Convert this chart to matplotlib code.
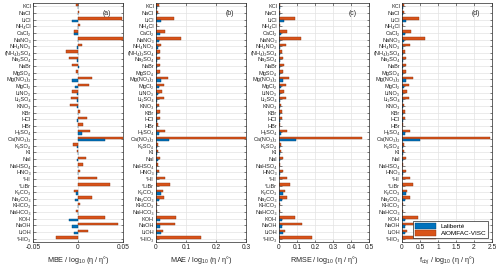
import numpy as np
import matplotlib
matplotlib.use("Agg")
import matplotlib.pyplot as plt

plt.rcParams['font.family'] = ['Liberation Sans', 'DejaVu Sans']
plt.rcParams['mathtext.fontset'] = 'custom'
plt.rcParams['mathtext.rm'] = 'Liberation Sans'
plt.rcParams['mathtext.it'] = 'Liberation Sans:italic'

# Electrolytes, top to bottom (unicode subscripts keep the labels one line high)
electrolitos = [
    'KCl', 'NaCl', 'LiCl', 'NH₄Cl', 'CaCl₂', 'NaNO₃', 'NH₄NO₃',
    '(NH₄)₂SO₄', 'Na₂SO₄', 'NaBr', 'MgSO₄', 'Mg(NO₃)₂',
    'MgCl₂', 'LiNO₃', 'Li₂SO₄', 'KNO₃', 'KBr', 'HCl', 'HBr',
    'H₂SO₄', 'Ca(NO₃)₂', 'K₂SO₄', 'KI', 'NaI', 'NaHSO₄',
    'HNO₃', '*HI', '*LiBr', 'K₂CO₃', 'Na₂CO₃', 'KHCO₃',
    'NaHCO₃', 'KOH', 'NaOH', 'LiOH', '*HIO₃',
]

nan = np.nan

# (a) MBE
mbe_lal = [0.0005, 0.0005, -0.007, 0.0005, -0.0045, 0.0005, -0.001, -0.0005, -0.001,
           0.001, -0.0005, -0.007, -0.003, -0.001, -0.001, -0.001, 0.0005, -0.001,
           0.0005, 0.004, 0.030, -0.001, -0.0005, -0.001, 0.0005, 0.0005, nan, nan,
           -0.002, -0.003, 0.0005, -0.0005, -0.0095, -0.0065, -0.004, nan]
mbe_aio = [-0.002, 0.0015, 0.049, 0.002, -0.0045, 0.052, 0.004, -0.0135, -0.010,
           -0.007, -0.002, 0.016, 0.012, -0.007, -0.0075, -0.009, 0.002, 0.0095,
           0.005, 0.013, 0.058, -0.0055, -0.0015, 0.009, 0.006, 0.002, 0.021, 0.036,
           -0.004, 0.016, 0.002, -0.0025, 0.030, 0.044, 0.011, -0.025]

# (b) MAE
mae_lal = [0.002, 0.002, 0.017, 0.001, 0.013, 0.009, 0.005, 0.002, 0.003, 0.004,
           0.002, 0.018, 0.009, 0.005, 0.004, 0.004, 0.002, 0.002, 0.001, 0.011,
           0.042, 0.004, 0.002, 0.005, 0.001, 0.002, nan, nan, 0.018, 0.010, 0.001,
           0.001, 0.014, 0.013, 0.017, nan]
mae_aio = [0.009, 0.007, 0.059, 0.003, 0.031, 0.084, 0.017, 0.014, 0.012, 0.014,
           0.012, 0.040, 0.026, 0.020, 0.026, 0.011, 0.013, 0.012, 0.006, 0.031,
           0.33, 0.007, 0.008, 0.014, 0.006, 0.011, 0.031, 0.047, 0.023, 0.028,
           0.003, 0.003, 0.067, 0.064, 0.022, 0.151]

# (c) RMSE
rmse_lal = [0.003, 0.003, 0.026, 0.002, 0.013, 0.007, 0.006, 0.003, 0.004, 0.005,
            0.003, 0.024, 0.011, 0.006, 0.005, 0.004, 0.003, 0.003, 0.002, 0.013,
            0.096, 0.005, 0.003, 0.007, 0.002, 0.003, nan, nan, 0.022, 0.017, 0.002,
            0.002, 0.017, 0.017, 0.020, nan]
rmse_aio = [0.007, 0.007, 0.087, 0.004, 0.046, 0.124, 0.041, 0.019, 0.024, 0.026,
            0.022, 0.056, 0.037, 0.026, 0.037, 0.013, 0.015, 0.015, 0.007, 0.043,
            0.46, 0.009, 0.013, 0.024, 0.007, 0.024, 0.043, 0.063, 0.031, 0.043,
            0.004, 0.004, 0.087, 0.13, 0.033, 0.185]

# (d) f_obj
fobj_lal = [0.015, 0.015, 0.12, 0.01, 0.08, 0.05, 0.03, 0.015, 0.02, 0.025, 0.015,
            0.10, 0.06, 0.03, 0.025, 0.02, 0.015, 0.015, 0.01, 0.07, 0.51, 0.025,
            0.015, 0.035, 0.01, 0.015, nan, nan, 0.10, 0.08, 0.01, 0.01, 0.08, 0.08,
            0.08, nan]
fobj_aio = [0.05, 0.055, 0.46, 0.03, 0.24, 0.65, 0.21, 0.09, 0.11, 0.12, 0.11, 0.30,
            0.19, 0.13, 0.19, 0.06, 0.07, 0.07, 0.04, 0.21, 2.44, 0.05, 0.06, 0.11,
            0.03, 0.10, 0.21, 0.31, 0.15, 0.21, 0.02, 0.02, 0.44, 0.68, 0.15, 0.95]

unidade = r'log$_{10}$ ($\mathrm{\eta}$ / $\mathrm{\eta}$°)'
paineis = [
    ('(a)', mbe_lal, mbe_aio, (-0.05, 0.05), [-0.05, 0, 0.05], ['-0.05', '0', '0.05'],
     'MBE / ' + unidade),
    ('(b)', mae_lal, mae_aio, (0, 0.3), [0, 0.1, 0.2, 0.3], ['0', '0.1', '0.2', '0.3'],
     'MAE / ' + unidade),
    ('(c)', rmse_lal, rmse_aio, (0, 0.5), [0, 0.1, 0.2, 0.3, 0.4, 0.5],
     ['0', '0.1', '0.2', '0.3', '0.4', '0.5'], 'RMSE / ' + unidade),
    ('(d)', fobj_lal, fobj_aio, (0, 2.5), [0, 0.5, 1, 1.5, 2, 2.5],
     ['0', '0.5', '1', '1.5', '2', '2.5'], 'f$_{obj}$ / ' + unidade),
]

cor_lal = '#0072BD'
cor_aio = '#D95319'
cor_eixo = '#262626'

fig = plt.figure(figsize=(5.0, 2.67), dpi=100)
lefts = [33, 156, 279, 402]
largura = 90
topo, base = 3, 242

y = np.arange(len(electrolitos))
h = 0.36

for i, (rotulo, lal, aio, xlim, xt, xtl, xlabel) in enumerate(paineis):
    ax = fig.add_axes([lefts[i] / 500, 1 - base / 267, largura / 500, (base - topo) / 267])
    ax.set_axisbelow(True)
    ax.grid(True, color='#e3e3e3', linewidth=0.5)
    ax.barh(y - h / 2, aio, height=h, color=cor_aio, edgecolor='#8a3410',
            linewidth=0.3, label='AIOMFAC-VISC')
    ax.barh(y + h / 2, lal, height=h, color=cor_lal, edgecolor='#00406b',
            linewidth=0.3, label='Laliberté')
    ax.set_xlim(*xlim)
    ax.set_ylim(len(electrolitos) - 0.5, -0.5)
    ax.set_yticks(y)
    ax.set_yticklabels(electrolitos, fontsize=4.0, color=cor_eixo)
    ax.set_xticks(xt)
    ax.set_xticklabels(xtl, fontsize=4.8, color=cor_eixo)
    ax.set_xlabel(xlabel, fontsize=5.2, color=cor_eixo, labelpad=2)
    ax.tick_params(direction='in', length=1.8, width=0.4, pad=1.5,
                   top=True, right=True, colors=cor_eixo)
    for s in ax.spines.values():
        s.set_linewidth(0.5)
        s.set_color(cor_eixo)
    ax.text(0.82, 0.955, rotulo, transform=ax.transAxes, fontsize=5,
            color=cor_eixo, ha='center', va='center')
    if i == 3:
        handles, labels = ax.get_legend_handles_labels()
        leg = ax.legend(handles[::-1], labels[::-1], loc='lower right', fontsize=4.6,
                        fancybox=False, framealpha=1, edgecolor=cor_eixo,
                        borderpad=0.3, handlelength=3.2, handleheight=0.9,
                        labelspacing=0.2, borderaxespad=0.6)
        leg.get_frame().set_linewidth(0.5)

fig.savefig('out.png', dpi=100, facecolor='white')
